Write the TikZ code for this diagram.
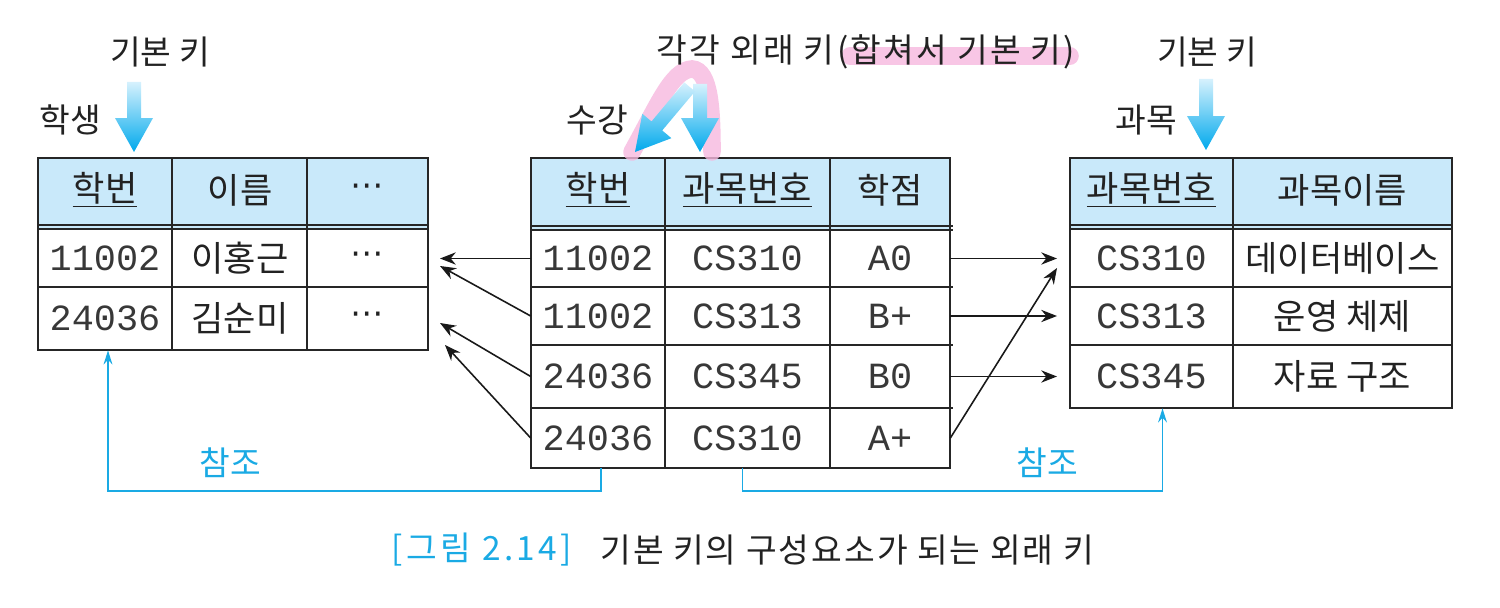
\documentclass[tikz,border=0pt]{standalone}
\usepackage{fontspec}
\setmainfont{Noto Sans CJK KR}
\newfontfamily\kr{Noto Sans CJK KR}
\newfontfamily\krwide{Noto Sans CJK KR}[LetterSpace=7]
\newfontfamily\krcap{Noto Sans CJK KR}[LetterSpace=6]
\newfontfamily\krcapb{Noto Sans CJK KR}[LetterSpace=10]
\newfontfamily\mono{Liberation Mono}
\newfontfamily\dejavu{DejaVu Sans}
\usetikzlibrary{arrows.meta,calc}
\definecolor{hdr}{HTML}{C9E9FA}
\definecolor{refblue}{HTML}{1AAAE4}
\definecolor{pinkhl}{HTML}{F6B8DE}
\definecolor{arrowlight}{HTML}{D6F1FD}
\definecolor{arrowdark}{HTML}{00A9EC}
\definecolor{txt}{HTML}{222222}
\tikzset{
  lbl/.style={font=\fontsize{19}{22}\selectfont\kr, text=txt, inner sep=0pt},
  hd/.style={font=\fontsize{20}{24}\selectfont\kr, text=txt, inner sep=0pt},
  kc/.style={font=\fontsize{20}{24}\selectfont\kr, text=txt, inner sep=0pt},
  mn/.style={font=\fontsize{21}{24}\selectfont\mono, text=black!78, inner sep=0pt},
  dots/.style={font=\fontsize{19}{20}\selectfont\dejavu, text=txt, inner sep=0pt},
  grid/.style={line width=1.3pt, draw=black!85},
  thin/.style={line width=1pt, draw=black!85},
  fk/.style={-{Stealth[length=9pt,width=7pt]}, line width=0.9pt, draw=black!90},
  refline/.style={draw=refblue, line width=1.1pt, -{Stealth[length=8pt,width=5pt]}},
  reflbl/.style={font=\fontsize{19}{22}\selectfont\kr, text=refblue, inner sep=0pt},
  hilite/.style={draw=pinkhl, opacity=0.8, line width=10pt, line cap=round},
  pics/bluearr/.style={code={
    \shade[top color=arrowlight, bottom color=arrowdark]
      (-7,-#1) -- (7,-#1) -- (7,-34) -- (19,-34) -- (0,0) -- (-19,-34) -- (-7,-34) -- cycle;
  }}
}
\begin{document}
\begin{tikzpicture}[x=0.02cm,y=-0.02cm]
\useasboundingbox (0,0) rectangle (1500,608);

% ---------- left table (학생)
\fill[hdr] (38,158) rectangle (428,229);
\draw[grid] (38,158) rectangle (428,350);
\draw[thin] (38,225) -- (428,225) (38,229) -- (428,229);
\draw[grid] (38,287) -- (428,287) (172,158) -- (172,350) (307,158) -- (307,350);

\node[hd] (l01) at (105,190) {\underline{학번}};
\node[hd] (l02) at (240,190) {이름};
\node[dots] (l03) at (367,190) {⋯};
\node[mn] (l11) at (105,258) {11002};
\node[kc] (l12) at (240,258) {이홍근};
\node[dots] (l13) at (367,258) {⋯};
\node[mn, minimum height=1.26cm] (l21) at (105,318.5) {24036};
\node[kc] (l22) at (240,318) {김순미};
\node[dots] (l23) at (367,318) {⋯};

% ---------- middle table (수강)
\fill[hdr] (531,158) rectangle (950,230);
\draw[grid] (531,158) rectangle (950,468);
\draw[thin] (531,226) -- (953,226) (531,230) -- (953,230);
\draw[grid] (531,287) -- (953,287) (531,345) -- (953,345) (531,408) -- (953,408)
  (665,158) -- (665,468) (830,158) -- (830,468);

\node[hd] (m01) at (598,190) {\underline{학번}};
\node[hd] (m02) at (747.5,190) {\underline{과목번호}};
\node[hd] (m03) at (890,190) {학점};

\node[mn, minimum width=2.68cm, minimum height=1.14cm] (m11) at (598,258.5) {11002};
\node[mn] (m12) at (747.5,258.5) {CS310};
\node[mn, minimum width=2.4cm] (m13) at (890,258.5) {A0};
\node[mn, minimum width=2.68cm, minimum height=1.16cm] (m21) at (598,316) {11002};
\node[mn] (m22) at (747.5,316) {CS313};
\node[mn, minimum width=2.4cm] (m23) at (890,316) {B+};
\node[mn, minimum width=2.68cm, minimum height=1.26cm] (m31) at (598,376.5) {24036};
\node[mn] (m32) at (747.5,376.5) {CS345};
\node[mn, minimum width=2.4cm] (m33) at (890,376.5) {B0};
\node[mn, minimum width=2.68cm, minimum height=1.2cm] (m41) at (598,438) {24036};
\node[mn, minimum height=1.2cm] (m42) at (747.5,438) {CS310};
\node[mn, minimum width=2.4cm] (m43) at (890,438) {A+};

% ---------- right table (과목)
\fill[hdr] (1070,158) rectangle (1452,229);
\draw[grid] (1070,158) rectangle (1452,408);
\draw[thin] (1070,225) -- (1452,225) (1070,229) -- (1452,229);
\draw[grid] (1070,287) -- (1452,287) (1070,345) -- (1452,345) (1233,158) -- (1233,408);

\node[hd] (r01) at (1151.5,190) {\underline{과목번호}};
\node[hd] (r02) at (1342.5,190) {과목이름};
\node[mn] (r11) at (1151.5,258) {CS310};
\node[kc] (r12) at (1342.5,258) {데이터베이스};
\node[mn] (r21) at (1151.5,316) {CS313};
\node[kc] (r22) at (1342.5,316) {운영 체제};
\node[mn, minimum height=1.26cm] (r31) at (1151.5,376.5) {CS345};
\node[kc] (r32) at (1342.5,376.5) {자료 구조};

% ---------- pink highlights
\draw[hilite] (632,152) .. controls (658,105) and (672,70) .. (692,69)
  .. controls (710,70) and (712,110) .. (712,152);
\draw[hilite] (850,56) -- (1070,56);

% ---------- top labels
\node[lbl] (pk1) at (160,52) {기본 키};
\node[lbl] (tstu) at (70,120) {학생};
\node[lbl, font=\fontsize{19}{22}\selectfont\krwide] (fkl) at (866,52) {각각 외래 키(합쳐서 기본 키)};
\node[lbl] (tenr) at (597,120) {수강};
\node[lbl] (pk2) at (1207,52) {기본 키};
\node[lbl] (tsub) at (1146,120) {과목};

% ---------- blue gradient arrows
\pic at (134,152) {bluearr=70};
\pic at (1206,150) {bluearr=71};
\pic at (700,152) {bluearr=68};
\pic[rotate=-40] at (635,152) {bluearr=85};

% ---------- foreign key arrows
\coordinate (t1) at (440,258.5);
\coordinate (t2) at (440,266);
\coordinate (t3) at (440,323);
\coordinate (t4) at (445,345);
\draw[fk] (m11.west) -- (t1);
\draw[fk] (m21.west) -- (t2);
\draw[fk] (m31.west) -- (t3);
\draw[fk] (m41.west) -- (t4);

\coordinate (u1) at (1057,258.5);
\coordinate (u2) at (1057,316);
\coordinate (u3) at (1057,376.5);
\coordinate (u4) at (1057,268);
\draw[fk] (m13.east) -- (u1);
\draw[fk] (m23.east) -- (u2);
\draw[fk] (m33.east) -- (u3);
\draw[fk] (m43.east) -- (u4);

% ---------- reference lines
\draw[refline] ($(m41.south)+(3,0)$) -- ++(0,23) -| ($(l21.south)+(3,0)$);
\draw[refline] ($(m42.south)+(-5,0)$) -- ++(0,23) -| ($(r31.south)+(11,0)$);
\node[reflbl] (ref1) at (230,463) {참조};
\node[reflbl] (ref2) at (1047,463) {참조};

% ---------- caption
\node[font=\fontsize{19}{22}\selectfont\krcapb, text=refblue, inner sep=0pt, anchor=east] (cap1) at (572,550) {[그림 2.14]};
\node[font=\fontsize{19}{22}\selectfont\krcap, text=txt, inner sep=0pt, anchor=west] (cap2) at (600,550) {기본 키의 구성요소가 되는 외래 키};
\end{tikzpicture}
\end{document}
